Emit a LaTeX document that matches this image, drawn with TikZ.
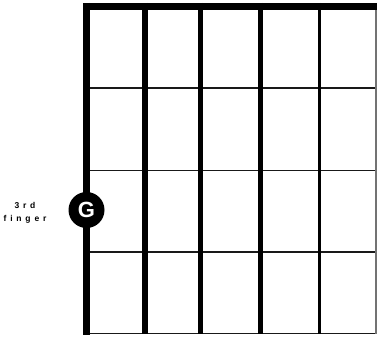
\documentclass[tikz,border=0pt]{standalone}
\usepackage{fontspec}
\setmainfont{Liberation Sans}
\begin{document}
\begin{tikzpicture}[x=1pt,y=-1pt,
  strng/.style={line width=#1, draw=black},
  fret/.style={line width=1.7pt, draw=black!90},
  dot/.style={circle, fill=black, minimum size=36pt, inner sep=0pt, text=white, font=\fontsize{22}{22}\selectfont\bfseries},
  lbl/.style={align=center, font=\fontsize{8.5}{13.5}\selectfont\bfseries\addfontfeatures{LetterSpace=45}}]
\useasboundingbox (0,0) rectangle (377,339);
% frets
\foreach \y/\n in {88/f1,170.5/f2,252/f3,333.5/f4}{
  \coordinate (\n a) at (86,\y); \coordinate (\n b) at (376.5,\y);
  \draw[fret] (\n a) -- (\n b);
}
% strings
\foreach \x/\w/\n in {145.3/6pt/s5,200.8/5pt/s4,260.5/4.2pt/s3,319.7/3pt/s2}{
  \coordinate (\n a) at (\x,3); \coordinate (\n b) at (\x,334);
  \draw[strng=\w] (\n a) -- (\n b);
}
\coordinate (s1a) at (376,3); \coordinate (s1b) at (376,334);
\draw[line width=1.2pt, draw=black!55] (s1a) -- (s1b);
\coordinate (s6a) at (86.5,3); \coordinate (s6b) at (86.5,334.5);
\draw[strng=7pt] (s6a) -- (s6b);
% nut
\coordinate (nuta) at (83,6.5); \coordinate (nutb) at (377,6.5);
\draw[line width=7pt] (nuta) -- (nutb);
% finger dot
\node[dot] (g) at (86.5,210) {G};
\node[lbl] (t) at (25,213) {3rd\\finger};
\end{tikzpicture}
\end{document}
